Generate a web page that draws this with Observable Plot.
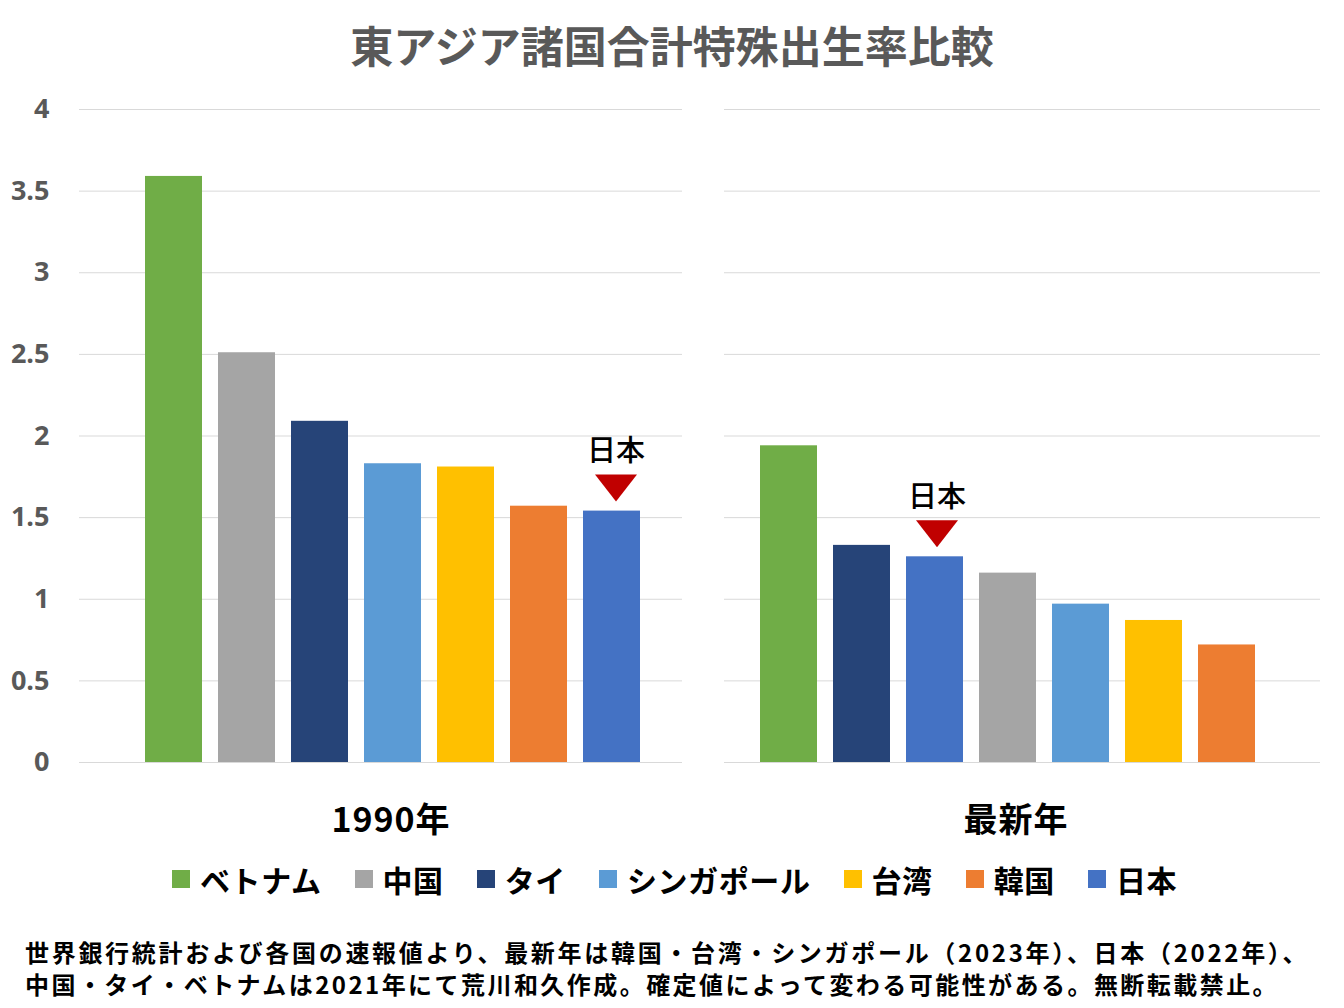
<!DOCTYPE html>
<html><head><meta charset="utf-8">
<script src="https://cdn.jsdelivr.net/npm/d3@7"></script>
<script src="https://cdn.jsdelivr.net/npm/@observablehq/plot@0.6"></script>
<style>
body{margin:0;background:#fff;}
#wrap{position:relative;width:1344px;height:1008px;overflow:hidden;font-family:"Noto Sans CJK JP","Noto Sans",sans-serif;}
.abs{position:absolute;}
#title{left:0;width:1344px;top:15px;text-align:center;font-size:43px;font-weight:bold;color:#595959;line-height:58px;}
.plabel{top:795px;font-size:34px;font-weight:bold;color:#000;line-height:46px;text-align:center;width:300px;letter-spacing:1px;}
#legend{top:858px;left:172px;display:flex;align-items:center;font-size:30px;font-weight:bold;color:#000;line-height:42px;white-space:nowrap;letter-spacing:0.6px;}
.item{display:flex;align-items:center;margin-right:33px;}
.sw{width:18px;height:18px;margin-right:10px;}
#caption{left:25px;top:936px;font-size:24px;font-weight:bold;color:#000;line-height:32px;white-space:nowrap;}
</style></head><body><div id="wrap"></div>
<script>
const countries = ["ベトナム","中国","タイ","シンガポール","台湾","韓国","日本"];
const colors = ["#70ad47","#a5a5a5","#264478","#5b9bd5","#ffc000","#ed7d31","#4472c4"];
const names1990 = ["ベトナム","中国","タイ","シンガポール","台湾","韓国","日本"];
const values1990 = [3.59,2.51,2.09,1.83,1.81,1.57,1.54];
const namesLatest = ["ベトナム","タイ","日本","中国","シンガポール","台湾","韓国"];
const valuesLatest = [1.94,1.33,1.26,1.16,0.97,0.87,0.72];
const yTicks = [0,0.5,1,1.5,2,2.5,3,3.5,4];
const panelLabels = ["1990年","最新年"];
const highlight = "日本";
const titleText = "東アジア諸国合計特殊出生率比較";
const captionLines = [
  "世界銀行統計および各国の速報値より、最新年は韓国・台湾・シンガポール（2023年）、日本（2022年）、",
  "中国・タイ・ベトナムは2021年にて荒川和久作成。確定値によって変わる可能性がある。無断転載禁止。"
];

const wrap = document.getElementById("wrap");
function addDiv(id, cls, text, style) {
  const d = document.createElement("div");
  if (id) d.id = id;
  d.className = "abs " + (cls || "");
  if (text != null) d.textContent = text;
  Object.assign(d.style, style || {});
  wrap.appendChild(d);
  return d;
}
addDiv("title", "", titleText);

const triangle = {draw(ctx) { ctx.moveTo(-21, -13.5); ctx.lineTo(21, -13.5); ctx.lineTo(0, 13.5); ctx.closePath(); }};

function panel(names, values, opts) {
  const data = names.map((n, i) => ({name: n, value: values[i]}));
  const hl = data.filter(d => d.name === highlight);
  const marks = [
    Plot.gridY(yTicks, {stroke: "#d9d9d9", strokeOpacity: 1, strokeWidth: 1}),
    Plot.barY(data, {x: "name", y: "value", fill: "name"}),
    Plot.dot(hl, {x: "name", y: "value", symbol: triangle, fill: "#c00000", stroke: null, dx: opts.hlDx, dy: -23}),
    Plot.text(hl, {x: "name", y: "value", text: d => d.name, dx: opts.hlDx, dy: -59, fontSize: 29, fill: "#000", fontWeight: 500})
  ];
  if (opts.axis) marks.push(Plot.axisY(yTicks, {tickSize: 0, tickPadding: 30, label: null, color: "#595959", fontSize: 27, fontWeight: "bold", fontFamily: "'Open Sans', sans-serif", tickFormat: d => String(d)}));
  return Plot.plot({
    width: opts.width, height: 700,
    marginLeft: opts.marginLeft, marginRight: opts.marginRight, marginTop: 29, marginBottom: 18,
    x: {domain: names, range: opts.xRange, paddingInner: 0.22, paddingOuter: 0, axis: null},
    y: {domain: [0, 4], axis: null},
    color: {domain: countries, range: colors},
    style: {fontFamily: "'Noto Sans CJK JP', sans-serif", background: "transparent", overflow: "visible"},
    marks
  });
}

const left = panel(names1990, values1990, {width: 682, marginLeft: 79, marginRight: 0, xRange: [143, 641], axis: true, hlDx: 4});
left.style.position = "absolute"; left.style.left = "0px"; left.style.top = "80px";
wrap.appendChild(left);
const right = panel(namesLatest, valuesLatest, {width: 662, marginLeft: 42, marginRight: 24, xRange: [75, 575], axis: false, hlDx: 2});
right.style.position = "absolute"; right.style.left = "682px"; right.style.top = "80px";
wrap.appendChild(right);

addDiv(null, "plabel", panelLabels[0], {left: (391 - 150) + "px"});
addDiv(null, "plabel", panelLabels[1], {left: (1016 - 150) + "px"});

const legend = addDiv("legend", "", null);
countries.forEach((c, i) => {
  const it = document.createElement("div"); it.className = "item";
  const sw = document.createElement("div"); sw.className = "sw"; sw.style.background = colors[i];
  const tx = document.createElement("span"); tx.textContent = c;
  it.appendChild(sw); it.appendChild(tx); legend.appendChild(it);
});

const cap = addDiv("caption", "", null);
const capSpacing = ["2.7px", "2.45px"];
captionLines.forEach((l, i) => { const d = document.createElement("div"); d.textContent = l; d.style.letterSpacing = capSpacing[i]; cap.appendChild(d); });
</script></body></html>
